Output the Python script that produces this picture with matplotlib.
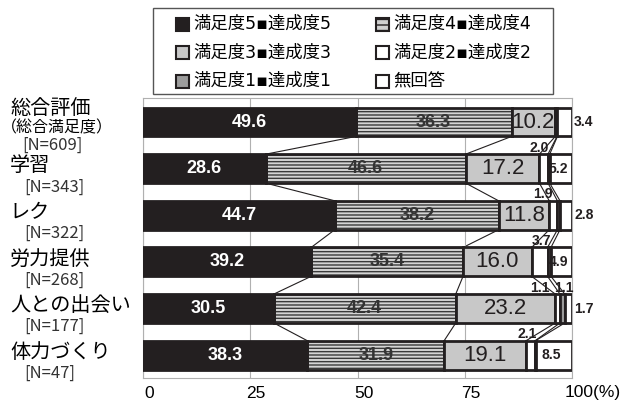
import matplotlib
matplotlib.use("Agg")
import matplotlib.pyplot as plt
import matplotlib.patches as mpatches
import matplotlib.transforms as mtrans
from matplotlib.transforms import blended_transform_factory
import numpy as np

plt.rcParams['font.family'] = ['Noto Sans CJK JP', 'DejaVu Sans']
plt.rcParams['hatch.linewidth'] = 1.0

# data (percent)
names = ['総合評価', '学習', 'レク', '労力提供', '人との出会い', '体力づくり']
subs = ['（総合満足度）', '', '', '', '', '']
counts = ['[N=609]', '[N=343]', '[N=322]', '[N=268]', '[N=177]', '[N=47]']
series = ['満足度5▪達成度5', '満足度4▪達成度4', '満足度3▪達成度3',
          '満足度2▪達成度2', '満足度1▪達成度1', '無回答']
s5 = [49.6, 28.6, 44.7, 39.2, 30.5, 38.3]
s4 = [36.3, 46.6, 38.2, 35.4, 42.4, 31.9]
s3 = [10.2, 17.2, 11.8, 16.0, 23.2, 19.1]
s2 = [0.4, 2.0, 1.9, 3.7, 1.1, 2.1]
s1 = [0.1, 0.4, 0.6, 0.8, 1.1, 0.1]
na = [3.4, 5.2, 2.8, 4.9, 1.7, 8.5]
xticks = [0, 25, 50, 75, 100]
xticklabels = ['0', '25', '50', '75', '100(%)']

vals = np.array([s5, s4, s3, s2, s1, na])
cum = np.vstack([np.zeros(6), np.cumsum(vals, axis=0)])

W, H = 632, 403
fig = plt.figure(figsize=(W / 100, H / 100), dpi=100)
ax = fig.add_axes([143 / W, 1 - 378 / H, 429 / W, 280 / H])

y = np.arange(6)
h = 0.62
ink = '#231f20'
faces = [ink, '#d4d4d4', '#c8c8c8', 'white', '#9c9c9c', 'white']
narrow = ['Liberation Sans Narrow', 'Liberation Sans', 'DejaVu Sans']

for k in range(6):
    if k == 1:
        ax.barh(y, vals[k], left=cum[k], height=h, color=faces[k],
                edgecolor='#3a3a3a', hatch='-----', linewidth=0, zorder=2)
        ax.barh(y, vals[k], left=cum[k], height=h, fill=False,
                edgecolor=ink, linewidth=2, zorder=3)
    else:
        ax.barh(y, vals[k], left=cum[k], height=h, color=faces[k],
                edgecolor=ink, linewidth=2, zorder=3)

# series lines between bars
for i in range(5):
    for k in range(1, 6):
        ax.plot([cum[k][i], cum[k][i + 1]], [i + h / 2, i + 1 - h / 2],
                color=ink, lw=0.8, zorder=1)

# labels inside big segments
for i in range(6):
    ax.text(s5[i] / 2, y[i], f'{s5[i]:.1f}', color='white', fontsize=13,
            fontweight='bold', ha='center', va='center', zorder=5,
            family='Liberation Sans')
    ax.text(cum[1][i] + s4[i] / 2, y[i], f'{s4[i]:.1f}', color='#333333',
            fontsize=13, fontweight='bold', ha='center', va='center', zorder=5,
            family='Liberation Sans')
    ax.text(cum[2][i] + s3[i] / 2, y[i], f'{s3[i]:.1f}', color=ink,
            fontsize=16, ha='center', va='center', zorder=5, family=narrow)

small = dict(fontsize=10, fontweight='bold', va='center',
             zorder=5, family=narrow, color=ink)
# no-answer labels
for i in range(6):
    if na[i] >= 4.5:
        ax.text(cum[5][i] + na[i] / 2 - 0.6, y[i], f'{na[i]:.1f}',
                ha='center', **small)
    else:
        ax.text(100.5, y[i], f'{na[i]:.1f}', ha='left', **small)
# satisfaction 2 / 1 labels placed above the bars
dx2 = [0, -0.1, -1.5, 2.2, -3.5, 0.2]
for i in range(1, 6):
    ax.text(cum[3][i] + dx2[i], y[i] - 0.45, f'{s2[i]:.1f}', ha='center',
            **small)
ax.text(cum[4][4] + 0.9, y[4] - 0.45, f'{s1[4]:.1f}', ha='center', **small)

ax.set_xlim(0, 100)
ax.set_ylim(5.49, -0.515)
ax.set_xticks(xticks)
ax.set_xticklabels([])
ax.tick_params(length=0)
ax.set_yticks([])
ax.grid(axis='x', color='#b0b0b0', lw=0.8, zorder=0)
for sp in ax.spines.values():
    sp.set_color('#b0b0b0')
    sp.set_linewidth(0.8)

# x tick labels
trx = blended_transform_factory(ax.transData, ax.transAxes)
for xv, lab in zip(xticks, xticklabels):
    if lab.endswith('(%)'):
        off = mtrans.offset_copy(trx, fig=fig, x=-7, y=-15, units='dots')
        ax.text(xv, 0, lab, fontsize=12.5, ha='left', va='center',
                transform=off, family='Liberation Sans')
    else:
        off = mtrans.offset_copy(trx, fig=fig, x=6, y=-15, units='dots')
        ax.text(xv, 0, lab, fontsize=12.5, ha='center', va='center',
                transform=off, family='Liberation Sans')

# row labels
tr = blended_transform_factory(fig.transFigure, ax.transData)
for i in range(6):
    if subs[i]:
        ax.text(10 / W, y[i] - 0.3, names[i], fontsize=14.5, transform=tr,
                ha='left', va='center')
        ax.text(1 / W, y[i] + 0.13, subs[i], fontsize=11.5, transform=tr,
                ha='left', va='center')
        ax.text(22 / W, y[i] + 0.5, counts[i], fontsize=12, transform=tr,
                ha='left', va='center', color='#333333')
    else:
        ax.text(10 / W, y[i] - 0.06, names[i], fontsize=14.5, transform=tr,
                ha='left', va='center')
        ax.text(24 / W, y[i] + 0.39, counts[i], fontsize=12, transform=tr,
                ha='left', va='center', color='#333333')

# legend box drawn by hand
def fx(px):
    return px / W

def fy(py):
    return 1 - py / H

fig.add_artist(mpatches.Rectangle((fx(153), fy(94)), fx(553) - fx(153),
                                  fy(8) - fy(94), transform=fig.transFigure,
                                  fill=False, edgecolor='#555555', lw=1.0))
leg_faces = [ink, '#d0d0d0', '#c8c8c8', 'white', '#9c9c9c', 'white']
for j, lab in enumerate(series):
    col, row = j % 2, j // 2
    x0 = 176 + col * 200
    yc = 24 + row * 28.5
    fig.add_artist(mpatches.Rectangle((fx(x0), fy(yc + 6.5)), fx(13), 13 / H,
                                      transform=fig.transFigure,
                                      facecolor=leg_faces[j], edgecolor=ink,
                                      lw=1.5, hatch='---' if j == 1 else None))
    fig.text(fx(x0 + 17), fy(yc), lab, fontsize=12.5, ha='left', va='center',
             family=['DejaVu Sans', 'Noto Sans CJK JP'])

fig.savefig('out.png', dpi=100)
